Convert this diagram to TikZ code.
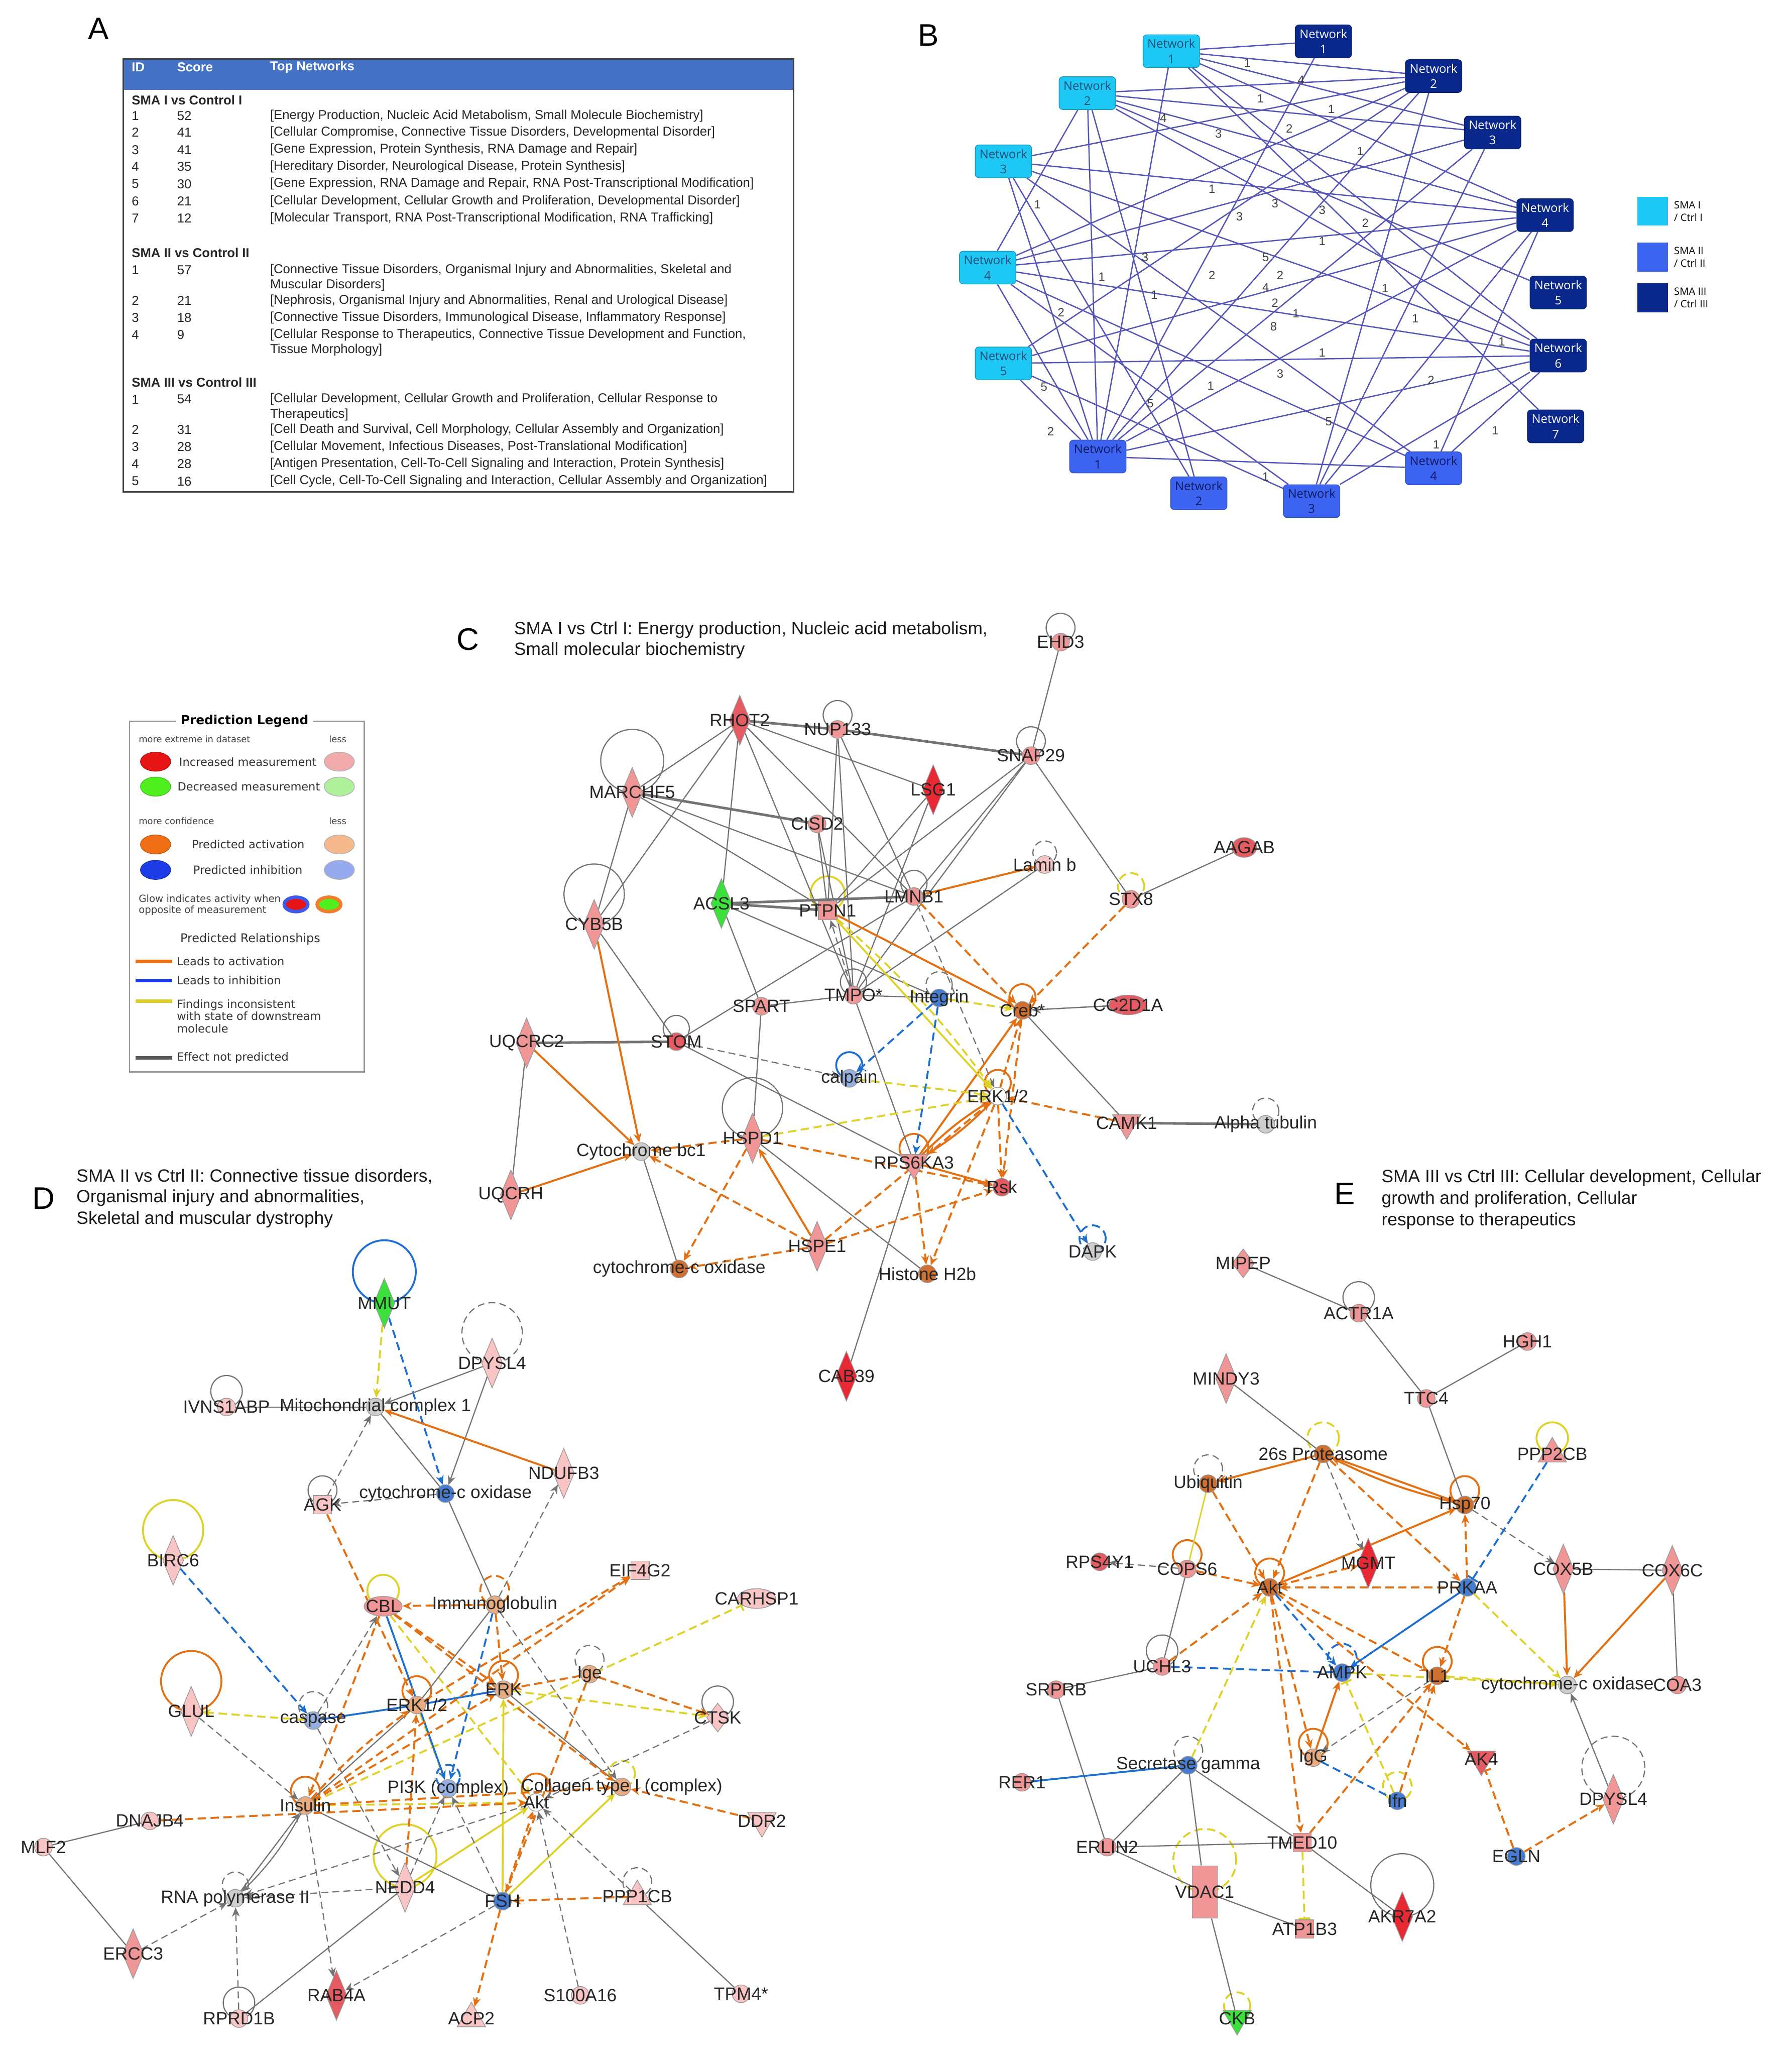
\documentclass[tikz,border=0pt]{standalone}
\usepackage{fontspec}
\setmainfont{Liberation Sans}
\newfontfamily\legf{DejaVu Sans}
\newfontfamily\netf{Open Sans}
\usetikzlibrary{shapes.geometric,arrows.meta,calc}
\pgfdeclarelayer{bg}
\pgfdeclarelayer{back}
\pgfsetlayers{back,bg,main}
\definecolor{pinkL}{RGB}{248,196,196}
\definecolor{pinkM}{RGB}{240,150,150}
\definecolor{redM}{RGB}{228,92,98}
\definecolor{redS}{RGB}{232,40,50}
\definecolor{greenS}{RGB}{60,225,60}
\definecolor{orgS}{RGB}{208,112,48}
\definecolor{orgL}{RGB}{232,172,128}
\definecolor{bluS}{RGB}{70,125,210}
\definecolor{bluL}{RGB}{150,175,225}
\definecolor{grayN}{RGB}{205,205,205}
\definecolor{eOr}{RGB}{228,112,20}
\definecolor{eBl}{RGB}{30,110,210}
\definecolor{eYe}{RGB}{222,210,40}
\definecolor{eGr}{RGB}{115,115,115}
\definecolor{hdr}{RGB}{68,114,196}
\definecolor{cyanN}{RGB}{30,200,245}
\definecolor{cyanT}{RGB}{25,80,120}
\definecolor{bluN}{RGB}{60,100,240}
\definecolor{navT}{RGB}{15,25,100}
\definecolor{navN}{RGB}{10,40,140}
\definecolor{netE}{RGB}{85,85,185}
\definecolor{lgRed}{RGB}{230,20,20}
\definecolor{lgPink}{RGB}{240,170,170}
\definecolor{lgGreen}{RGB}{80,240,30}
\definecolor{lgLGreen}{RGB}{175,240,155}
\definecolor{lgOrg}{RGB}{240,110,20}
\definecolor{lgLOrg}{RGB}{245,185,140}
\definecolor{lgBlue}{RGB}{30,60,230}
\definecolor{lgLBlue}{RGB}{150,170,240}
\newcommand\fsz[1]{\fontsize{#1}{#1}\selectfont}
\newcommand\Gn[5]{\node[#1,fill=#2] (#3) at (#4) {}; \node[lbl] (#3t) at (#3.center) {#5};}
\newcommand\Lp[3]{\draw[#1] ($(#2)+(0,-#3)$) circle[radius=#3*0.02cm];}
\newcommand\Tr[5]{\node[tx] (#5a) at (100.1,#1) {#2}; \node[tx] (#5b) at (134.7,#1) {#3}; \node[tx] (#5c) at (205.6,#1) {#4};}
\tikzset{
 nb/.style={draw=black!40, line width=0.3pt, inner sep=0pt},
 gc/.style={nb, circle, minimum size=0.27cm},
 gd/.style={nb, diamond, minimum width=0.32cm, minimum height=0.76cm},
 gsd/.style={nb, diamond, minimum width=0.34cm, minimum height=0.44cm},
 gtd/.style={nb, regular polygon, regular polygon sides=3, shape border rotate=180, minimum size=0.5cm},
 gtu/.style={nb, regular polygon, regular polygon sides=3, minimum size=0.5cm},
 gr/.style={nb, rectangle, minimum width=0.28cm, minimum height=0.28cm},
 grt/.style={nb, rectangle, minimum width=0.38cm, minimum height=0.8cm},
 gew/.style={nb, ellipse, minimum width=0.58cm, minimum height=0.3cm},
 ges/.style={nb, ellipse, minimum width=0.38cm, minimum height=0.3cm},
 lbl/.style={inner sep=0pt, font=\fsz{7.7}, text=black!85},
 arr/.style={-{Stealth[length=4pt,width=3.4pt]}},
 eg/.style={draw=eGr, line width=0.5pt},
 egt/.style={draw=eGr, line width=1.1pt},
 ega/.style={eg, arr},
 egd/.style={eg, dash pattern=on 3pt off 1.8pt, arr},
 eoa/.style={draw=eOr, line width=0.85pt, arr},
 eod/.style={eoa, dash pattern=on 3.6pt off 2pt},
 eya/.style={draw=eYe, line width=0.8pt, arr},
 eyd/.style={eya, dash pattern=on 3.6pt off 2pt},
 eys/.style={draw=eYe, line width=0.6pt},
 eybar/.style={draw=eYe, line width=0.8pt, dash pattern=on 3.6pt off 2pt, -{Bar[width=5pt]}},
 eba/.style={draw=eBl, line width=0.8pt, arr},
 ebs/.style={draw=eBl, line width=0.8pt},
 ebd/.style={eba, dash pattern=on 3.6pt off 2pt},
 ebd0/.style={ebs, dash pattern=on 3.6pt off 2pt},
 ebbar/.style={ebs, dash pattern=on 3.6pt off 2pt, -{Bar[width=5pt]}},
 eodbar/.style={draw=eOr, line width=0.85pt, dash pattern=on 3.6pt off 2pt, -{Bar[width=5pt]}},
 lg/.style={draw=eGr, line width=0.5pt},
 lgd/.style={lg, dash pattern=on 3pt off 1.8pt},
 lo/.style={draw=eOr, line width=0.8pt},
 lod/.style={lo, dash pattern=on 3.6pt off 2pt},
 ly/.style={draw=eYe, line width=0.8pt},
 lyd/.style={ly, dash pattern=on 3.6pt off 2pt},
 lb/.style={draw=eBl, line width=0.8pt},
 lbd/.style={lb, dash pattern=on 3.6pt off 2pt},
 tx/.style={anchor=west, inner sep=0pt, font=\fsz{5.6}, text=black!85},
 th/.style={tx, font=\bfseries\fsz{5.6}, text=white},
 tg/.style={tx, font=\bfseries\fsz{5.6}},
 ttl/.style={anchor=west, inner sep=0pt, font=\fsz{7.7}, text=black!90},
 letter/.style={inner sep=0pt, font=\fsz{13.5}},
 netbox/.style={rounded corners=1.6pt, minimum width=0.86cm, minimum height=0.5cm, inner sep=0pt, align=center, font=\netf\fontsize{5.2}{6.6}\selectfont},
 nI/.style={netbox, fill=cyanN, draw=cyanN!75!black, line width=0.3pt, text=cyanT},
 nII/.style={netbox, fill=bluN, draw=bluN!80!black, line width=0.3pt, text=navT},
 nIII/.style={netbox, fill=navN, draw=navN!80!black, line width=0.3pt, text=white},
 bl/.style={font=\fsz{5.2}, text=black!75, inner sep=0.3pt},
 ne/.style={draw=netE, line width=0.55pt},
 lt/.style={anchor=west, inner sep=0pt, font=\legf\fsz{4.9}, text=black!80},
 ls/.style={anchor=west, inner sep=0pt, font=\legf\fsz{3.9}, text=black!75},
 lell/.style={ellipse, minimum width=0.46cm, minimum height=0.29cm, inner sep=0pt},
}
\begin{document}
\begin{tikzpicture}[x=0.02cm,y=-0.02cm]
\useasboundingbox (0,0) rectangle (1366,1568);
\begin{pgfonlayer}{back}
\fill[white] (0,0) rectangle (1366,1568);
\end{pgfonlayer}

% ================= Panel letters and titles
\node[letter] (LA) at (75,22) {A};
\node[letter] (LB) at (708,27) {B};
\node[letter] (LC) at (356.8,487.4) {C};
\node[letter] (LD) at (33.1,913.3) {D};
\node[letter] (LE) at (1025.2,910) {E};
\node[ttl] (tc1) at (391.7,480) {SMA I vs Ctrl I: Energy production, Nucleic acid metabolism,};
\node[ttl] (tc2) at (391.7,495.8) {Small molecular biochemistry};
\node[ttl] (td1) at (58,897) {SMA II vs Ctrl II: Connective tissue disorders,};
\node[ttl] (td2) at (58,913.3) {Organismal injury and abnormalities,};
\node[ttl] (td3) at (58,929.5) {Skeletal and muscular dystrophy};
\node[ttl] (te1) at (1053,898) {SMA III vs Ctrl III: Cellular development, Cellular};
\node[ttl] (te2) at (1053,914.3) {growth and proliferation, Cellular};
\node[ttl] (te3) at (1053,930.6) {response to therapeutics};

% ================= Panel A table
\fill[hdr] (94,45) rectangle (605,68.6);
\draw[black!75, line width=0.7pt] (94,45) rectangle (605,375);
\node[th] (hID) at (100.1,51.1) {ID};
\node[th] (hSc) at (134.7,51.1) {Score};
\node[th] (hTN) at (205.6,51.1) {Top Networks};
\node[tg] (g1) at (100.1,76.3) {SMA I vs Control I};
\Tr{88.3}{1}{52}{[Energy Production, Nucleic Acid Metabolism, Small Molecule Biochemistry]}{r11}
\Tr{101}{2}{41}{[Cellular Compromise, Connective Tissue Disorders, Developmental Disorder]}{r12}
\Tr{114.2}{3}{41}{[Gene Expression, Protein Synthesis, RNA Damage and Repair]}{r13}
\Tr{127.1}{4}{35}{[Hereditary Disorder, Neurological Disease, Protein Synthesis]}{r14}
\Tr{140.2}{5}{30}{[Gene Expression, RNA Damage and Repair, RNA Post-Transcriptional Modification]}{r15}
\Tr{153.4}{6}{21}{[Cellular Development, Cellular Growth and Proliferation, Developmental Disorder]}{r16}
\Tr{166.5}{7}{12}{[Molecular Transport, RNA Post-Transcriptional Modification, RNA Trafficking]}{r17}
\node[tg] (g2) at (100.1,192.8) {SMA II vs Control II};
\Tr{205.9}{1}{57}{[Connective Tissue Disorders, Organismal Injury and Abnormalities, Skeletal and}{r21}
\node[tx] (r21d) at (205.6,217.5) {Muscular Disorders]};
\Tr{229.1}{2}{21}{[Nephrosis, Organismal Injury and Abnormalities, Renal and Urological Disease]}{r22}
\Tr{242.2}{3}{18}{[Connective Tissue Disorders, Immunological Disease, Inflammatory Response]}{r23}
\Tr{255.1}{4}{9}{[Cellular Response to Therapeutics, Connective Tissue Development and Function,}{r24}
\node[tx] (r24d) at (205.6,266.7) {Tissue Morphology]};
\node[tg] (g3) at (100.1,291.3) {SMA III vs Control III};
\Tr{304.4}{1}{54}{[Cellular Development, Cellular Growth and Proliferation, Cellular Response to}{r31}
\node[tx] (r31d) at (205.6,316) {Therapeutics]};
\Tr{327.6}{2}{31}{[Cell Death and Survival, Cell Morphology, Cellular Assembly and Organization]}{r32}
\Tr{340.7}{3}{28}{[Cellular Movement, Infectious Diseases, Post-Translational Modification]}{r33}
\Tr{353.7}{4}{28}{[Antigen Presentation, Cell-To-Cell Signaling and Interaction, Protein Synthesis]}{r34}
\Tr{366.8}{5}{16}{[Cell Cycle, Cell-To-Cell Signaling and Interaction, Cellular Assembly and Organization]}{r35}

% ================= Panel B network
\node[nI] (bI1) at (893,39) {Network\\1};
\node[nI] (bI2) at (829,71) {Network\\2};
\node[nI] (bI3) at (765,123) {Network\\3};
\node[nI] (bI4) at (753,204) {Network\\4};
\node[nI] (bI5) at (765,277) {Network\\5};
\node[nIII] (bT1) at (1009,31.5) {Network\\1};
\node[nIII] (bT2) at (1093,58) {Network\\2};
\node[nIII] (bT3) at (1138,101) {Network\\3};
\node[nIII] (bT4) at (1178,164) {Network\\4};
\node[nIII] (bT5) at (1188,223) {Network\\5};
\node[nIII] (bT6) at (1188,271) {Network\\6};
\node[nIII] (bT7) at (1186,325) {Network\\7};
\node[nII] (bS1) at (837,348) {Network\\1};
\node[nII] (bS2) at (914,376) {Network\\2};
\node[nII] (bS3) at (1000,382) {Network\\3};
\node[nII] (bS4) at (1093,357) {Network\\4};
\begin{pgfonlayer}{bg}
\foreach \a/\b in {bI1/bT1,bI1/bT2,bI1/bT3,bI1/bT4,bI1/bS1,bI1/bT7,bI1/bT6,
 bT1/bS1,bI2/bT2,bI2/bT3,bI2/bT4,bI2/bT5,bI2/bT6,bI2/bS1,bI2/bS2,bI2/bI4,
 bT2/bI4,bT2/bS1,bT2/bI5,bT2/bS3,bT2/bI3,bT3/bI4,bT3/bS1,bT3/bS3,
 bI3/bT4,bI3/bT6,bI3/bS2,bI3/bS4,bI3/bS1,bI4/bT4,bI4/bT6,bI4/bS3,bI4/bS1,bI4/bS4,
 bI5/bT6,bI5/bT4,bI5/bS1,bI5/bS3,bS1/bS4,bS1/bT6,bS1/bT4,bT4/bS4,bT4/bS3,bT6/bS4,bT6/bS3}
 \draw[ne] (\a) -- (\b);
\end{pgfonlayer}
\foreach \x/\y/\t [count=\i] in {951/48/1,992/61/4,961/75/1,1015/83/1,887/90/4,929/102/3,983/98/2,1037/115.5/1,
 791/156/1,924/144/1,972/155/3,945/165/3,1008/160/3,1041/170/2,1008/184/1,873/196/3,965/196/5,840/211/1,
 924/210/2,976/210/2,965/219/4,880/225/1,1056/220/1,809/238/2,972/231/2,988/239/1,1079/243/1,971/249/8,
 1145/260.5/1,1008/269/1,976/285/3,923/294/1,1091/290/2,796/295/5,877/307.5/5,1013/321.5/5,801/329/2,
 1140/328/1,1095/339/1,965/363.5/1}
 \node[bl] (bl\i) at (\x,\y) {\t};
\node[rectangle, fill=cyanN, minimum width=0.46cm, minimum height=0.44cm] (kI) at (1260,161) {};
\node[rectangle, fill=bluN, minimum width=0.46cm, minimum height=0.44cm] (kII) at (1260,196) {};
\node[rectangle, fill=navN, minimum width=0.46cm, minimum height=0.44cm] (kIII) at (1260,227) {};
\node[anchor=west, inner sep=0pt, font=\netf\fsz{4.4}, align=left] (kIt) at (1276,161) {SMA I\\[1pt]/ Ctrl I};
\node[anchor=west, inner sep=0pt, font=\netf\fsz{4.4}, align=left] (kIIt) at (1276,196) {SMA II\\[1pt]/ Ctrl II};
\node[anchor=west, inner sep=0pt, font=\netf\fsz{4.4}, align=left] (kIIIt) at (1276,227) {SMA III\\[1pt]/ Ctrl III};

% ================= Prediction legend
\draw[black!40, line width=0.6pt] (98.8,549.8) rectangle (277.7,817.2);
\node[fill=white, inner xsep=2pt, inner ysep=0pt, font=\legf\bfseries\fsz{5.4}] (pl) at (186.5,549.5) {Prediction Legend};
\node[ls] (pl1) at (105.4,563.4) {more extreme in dataset};
\node[ls] (pl2) at (250.5,563.4) {less};
\node[lell, fill=lgRed, draw=lgRed!80!black, line width=0.3pt] (pe1) at (118.6,580.6) {};
\node[lt] (pt1) at (136.3,580.6) {Increased measurement};
\node[lell, fill=lgPink, draw=black!30, line width=0.3pt] (pe2) at (258.7,580.6) {};
\node[lell, fill=lgGreen, draw=lgGreen!80!black, line width=0.3pt] (pe3) at (118.6,599.6) {};
\node[lt] (pt2) at (135,599.6) {Decreased measurement};
\node[lell, fill=lgLGreen, draw=black!30, line width=0.3pt] (pe4) at (258.7,599.6) {};
\node[ls] (pl3) at (105.4,625.9) {more confidence};
\node[ls] (pl4) at (250.5,625.9) {less};
\node[lell, fill=lgOrg, draw=lgOrg!80!black, line width=0.3pt] (pe5) at (118.6,643.7) {};
\node[lt] (pt3) at (146,643.7) {Predicted activation};
\node[lell, fill=lgLOrg, draw=black!30, line width=0.3pt] (pe6) at (258.7,643.7) {};
\node[lell, fill=lgBlue, draw=lgBlue!80!black, line width=0.3pt] (pe7) at (118.6,663.1) {};
\node[lt] (pt4) at (147,663.1) {Predicted inhibition};
\node[lell, fill=lgLBlue, draw=black!30, line width=0.3pt] (pe8) at (258.7,663.1) {};
\node[ls, font=\legf\fsz{4.3}, align=left] (pl5) at (105.4,689.8) {Glow indicates activity when\\[0.6pt]opposite of measurement};
\node[ellipse, fill=lgRed, draw=lgBlue!85, line width=1.5pt, minimum width=0.36cm, minimum height=0.22cm, inner sep=0pt] (pg1) at (225.7,689.4) {};
\node[ellipse, fill=lgGreen, draw=lgOrg!90, line width=1.5pt, minimum width=0.36cm, minimum height=0.22cm, inner sep=0pt] (pg2) at (250.8,689.4) {};
\node[inner sep=0pt, font=\legf\fsz{5.2}, text=black!80] (pr) at (190.8,715.7) {Predicted Relationships};
\coordinate (la1) at (103.3,732.9); \coordinate (lb1) at (131.4,732.9);
\coordinate (la2) at (103.3,747.4); \coordinate (lb2) at (131.4,747.4);
\coordinate (la3) at (103.3,763.2); \coordinate (lb3) at (131.4,763.2);
\coordinate (la4) at (103.3,806.3); \coordinate (lb4) at (131.4,806.3);
\draw[draw=lgOrg, line width=1.5pt] (la1) -- (lb1);
\draw[draw=lgBlue, line width=1.5pt] (la2) -- (lb2);
\draw[draw=eYe, line width=1.5pt] (la3) -- (lb3);
\draw[draw=black!65, line width=1.5pt] (la4) -- (lb4);
\node[lt] (prt1) at (134.5,732.9) {Leads to activation};
\node[lt] (prt2) at (134.5,747.4) {Leads to inhibition};
\node[lt, align=left] (prt3) at (134.5,774.6) {Findings inconsistent\\[0.5pt]with state of downstream\\[0.5pt]molecule};
\node[lt] (prt4) at (134.5,806.3) {Effect not predicted};

% ================= Panel C
\Gn{gc}{pinkM}{cEHD3}{808.6,489.5}{EHD3}
\Gn{gd}{redM}{cRHOT2}{564,549}{RHOT2}
\Gn{gc}{pinkM}{cNUP}{638.6,556}{NUP133}
\Gn{gc}{pinkM}{cSNAP}{786,576}{SNAP29}
\Gn{gd}{pinkM}{cMARCH}{482,604}{MARCHF5}
\Gn{gd}{redS}{cLSG1}{711.5,602}{LSG1}
\Gn{gc}{pinkM}{cCISD2}{623,628}{CISD2}
\Gn{gc}{pinkL}{cLamb}{796.5,659}{Lamin b}
\Gn{ges}{redM}{cAAGAB}{948.6,646}{AAGAB}
\Gn{gd}{pinkM}{cCYB5B}{453,704.6}{CYB5B}
\Gn{gd}{greenS}{cACSL3}{550,688.7}{ACSL3}
\Gn{gr}{pinkM}{cPTPN1}{631,694}{PTPN1}
\Gn{gc}{pinkM}{cLMNB1}{696.8,683.4}{LMNB1}
\Gn{gc}{pinkM}{cSTX8}{862.3,685.5}{STX8}
\Gn{gc}{pinkM}{cTMPO}{650.7,758.6}{TMPO*}
\Gn{gc}{bluS}{cInteg}{716,760.7}{Integrin}
\Gn{gc}{orgS}{cCreb}{779.5,770.2}{Creb*}
\Gn{gew}{redM}{cCC2D1A}{860,766}{CC2D1A}
\Gn{gc}{pinkM}{cSPART}{580.5,767}{SPART}
\Gn{gd}{pinkM}{cUQCRC2}{401.5,795}{UQCRC2}
\Gn{gc}{redM}{cSTOM}{515.6,794}{STOM}
\Gn{gc}{bluL}{cCalp}{647.5,822}{calpain}
\Gn{gc}{white}{cERK}{760.7,835.5}{ERK1/2}
\Gn{gtd}{pinkM}{cCAMK1}{859,856}{CAMK1}
\Gn{gc}{grayN}{cAlpha}{965,857}{Alpha tubulin}
\Gn{gd}{pinkM}{cHSPD1}{573.7,867.5}{HSPD1}
\Gn{gc}{grayN}{cBC1}{488.8,877.8}{Cytochrome bc1}
\Gn{gtd}{pinkM}{cRPS}{696.8,886.3}{RPS6KA3}
\Gn{gc}{redM}{cRsk}{763.8,905}{Rsk}
\Gn{gd}{pinkM}{cUQCRH}{389.5,910.8}{UQCRH}
\Gn{gd}{pinkM}{cHSPE1}{623,950}{HSPE1}
\Gn{gc}{grayN}{cDAPK}{833,954}{DAPK}
\Gn{gc}{orgS}{cCYTC}{517.8,967.3}{cytochrome-c oxidase}
\Gn{gc}{orgS}{cH2b}{707,971}{Histone H2b}
\Gn{gd}{redS}{cCAB39}{645.3,1049}{CAB39}
\begin{pgfonlayer}{bg}
\Lp{lg}{cEHD3}{11} \Lp{lg}{cNUP}{11} \Lp{lg}{cSNAP}{11} \Lp{lg}{cMARCH}{24}
\Lp{lg}{cCYB5B}{23} \Lp{lg}{cLMNB1}{10} \Lp{lg}{cTMPO}{10} \Lp{lg}{cSTOM}{10} \Lp{lg}{cHSPD1}{23}
\Lp{lgd}{cLamb}{9} \Lp{lgd}{cInteg}{10} \Lp{lgd}{cAlpha}{10}
\Lp{ly}{cPTPN1}{13} \Lp{lyd}{cSTX8}{10}
\Lp{lo}{cCreb}{10} \Lp{lo}{cERK}{10} \Lp{lo}{cRPS}{11}
\Lp{lb}{cCalp}{10} \Lp{lbd}{cDAPK}{10}
\foreach \a/\b in {cEHD3/cSNAP,cRHOT2/cLSG1,cRHOT2/cMARCH,cRHOT2/cCYB5B,cRHOT2/cACSL3,cRHOT2/cTMPO,
 cRHOT2/cLMNB1,cNUP/cPTPN1,cNUP/cLMNB1,cNUP/cTMPO,cSNAP/cLMNB1,cSNAP/cTMPO,cSNAP/cSTX8,cSNAP/cPTPN1,
 cLSG1/cPTPN1,cLSG1/cTMPO,cMARCH/cLMNB1,cMARCH/cPTPN1,cMARCH/cCYB5B,cCISD2/cPTPN1,cCISD2/cTMPO,
 cACSL3/cSPART,cACSL3/cInteg,cCYB5B/cSTOM,cLMNB1/cSTOM,cLamb/cTMPO,cSTX8/cAAGAB,cTMPO/cInteg,
 cSPART/cTMPO,cTMPO/cRPS,cSPART/cHSPD1,cCreb/cCC2D1A,cCreb/cCAMK1,cUQCRC2/cUQCRH,cSTOM/cRPS,
 cHSPD1/cH2b,cBC1/cCYTC,cRPS/cCAB39}
 \draw[eg] (\a) -- (\b);
\foreach \a/\b in {cRHOT2/cNUP,cNUP/cSNAP,cMARCH/cCISD2,cACSL3/cPTPN1,cACSL3/cLMNB1,cUQCRC2/cSTOM,cCAMK1/cAlpha}
 \draw[egt] (\a) -- (\b);
\foreach \a/\b in {cLMNB1/cERK,cTMPO/cPTPN1,cSTOM/cCalp,cCC2D1A/cCreb}
 \draw[egd] (\a) -- (\b);
\foreach \a/\b in {cLMNB1/cLamb,cPTPN1/cCreb,cCYB5B/cBC1,cUQCRC2/cBC1,cUQCRH/cBC1,cHSPE1/cHSPD1,cRPS/cCreb,cRPS/cRsk}
 \draw[eoa] (\a) -- (\b);
\draw[eoa] (cRPS) to[bend left=6] (cERK);
\draw[eoa] (cERK) to[bend left=6] (cRPS);
\foreach \a/\b in {cLMNB1/cCreb,cSTX8/cCreb,cERK/cRsk,cERK/cH2b,cERK/cCreb,cCreb/cRsk,cCAMK1/cERK,
 cHSPD1/cBC1,cHSPD1/cRsk,cHSPD1/cCYTC,cHSPE1/cBC1,cHSPE1/cCYTC,cHSPE1/cRsk,cHSPE1/cERK,cRPS/cH2b}
 \draw[eod] (\a) -- (\b);
\draw[eya] (cPTPN1) -- (cERK);
\draw[eyd] (cPTPN1) to[bend left=6] (cERK);
\foreach \a/\b in {cInteg/cCreb,cCalp/cERK,cHSPD1/cERK}
 \draw[eyd] (\a) -- (\b);
\foreach \a/\b in {cInteg/cCalp,cInteg/cRPS,cERK/cDAPK}
 \draw[ebd] (\a) -- (\b);
\end{pgfonlayer}

% ================= Panel D
\Gn{gd}{greenS}{dMMUT}{293,993.4}{MMUT}
\Gn{gd}{pinkL}{dDPY}{375.2,1039}{DPYSL4}
\Gn{gc}{pinkL}{dIVNS}{172.7,1072.5}{IVNS1ABP}
\Gn{gc}{grayN}{dMito}{286.2,1072.5}{Mitochondrial complex 1}
\Gn{gd}{pinkL}{dNDU}{429.8,1123}{NDUFB3}
\Gn{gr}{pinkL}{dAGK}{245.9,1147}{AGK}
\Gn{gc}{bluS}{dCYTC}{339.6,1138.5}{cytochrome-c oxidase}
\Gn{gd}{pinkL}{dBIRC6}{132,1189.4}{BIRC6}
\Gn{gr}{pinkL}{dEIF}{487.9,1197}{EIF4G2}
\Gn{gew}{pinkL}{dCARH}{576.9,1218.5}{CARHSP1}
\Gn{gew}{pinkM}{dCBL}{292.1,1224.4}{CBL}
\Gn{gc}{orgL}{dImm}{377.2,1223.2}{Immunoglobulin}
\Gn{gc}{orgL}{dIge}{449.5,1276.2}{Ige}
\Gn{gd}{pinkL}{dGLUL}{145.8,1304.5}{GLUL}
\Gn{gc}{bluL}{dCasp}{238.8,1311.5}{caspase}
\Gn{gc}{orgL}{dERK12}{317.8,1299.7}{ERK1/2}
\Gn{gc}{orgL}{dERK}{383.9,1288}{ERK}
\Gn{gsd}{pinkL}{dCTSK}{547.2,1309.2}{CTSK}
\Gn{gc}{bluL}{dPI3K}{341.6,1363.3}{PI3K (complex)}
\Gn{gc}{orgL}{dColl}{474.1,1362.1}{Collagen type I (complex)}
\Gn{gc}{white}{dAkt}{408.8,1373.9}{Akt}
\Gn{gc}{orgL}{dIns}{232.8,1376.3}{Insulin}
\Gn{gc}{pinkL}{dDNAJ}{114.2,1388}{DNAJB4}
\Gn{gtd}{pinkL}{dDDR2}{580.9,1388}{DDR2}
\Gn{gc}{pinkL}{dMLF2}{33.1,1408}{MLF2}
\Gn{gd}{pinkL}{dNEDD4}{308.8,1438.6}{NEDD4}
\Gn{gc}{grayN}{dRNA}{179.4,1447}{RNA polymerase II}
\Gn{gc}{bluS}{dFSH}{383.1,1449.2}{FSH}
\Gn{gtu}{pinkL}{dPPP}{485.9,1445.7}{PPP1CB}
\Gn{gd}{pinkM}{dERCC3}{101.5,1489.2}{ERCC3}
\Gn{gd}{redM}{dRAB}{256.5,1521}{RAB4A}
\Gn{gc}{pinkL}{dS100}{442.4,1521}{S100A16}
\Gn{gc}{pinkL}{dTPM}{565,1519.8}{TPM4*}
\Gn{gc}{pinkL}{dRPRD}{182.2,1538.7}{RPRD1B}
\Gn{gtu}{pinkL}{dACP2}{359.4,1538.7}{ACP2}
\begin{pgfonlayer}{bg}
\Lp{lb}{dMMUT}{24} \Lp{lgd}{dDPY}{23} \Lp{lg}{dIVNS}{12} \Lp{lg}{dAGK}{11} \Lp{ly}{dBIRC6}{23}
\Lp{ly}{dCBL}{12} \Lp{lod}{dImm}{11} \Lp{lgd}{dIge}{11} \Lp{lo}{dGLUL}{23} \Lp{lgd}{dCasp}{11}
\Lp{lo}{dERK12}{11} \Lp{lo}{dERK}{11} \Lp{lg}{dCTSK}{12} \Lp{lbd}{dPI3K}{9} \Lp{lyd}{dColl}{10}
\Lp{lo}{dAkt}{11} \Lp{lo}{dIns}{11} \Lp{ly}{dNEDD4}{24} \Lp{lgd}{dRNA}{10} \Lp{lgd}{dPPP}{11} \Lp{lg}{dRPRD}{12}
\foreach \a/\b in {dMMUT/dMito,dCasp/dGLUL,dERK/dCTSK,dCBL/dAkt,dIns/dAkt,dERK12/dPI3K}
 \draw[eyd] (\a) -- (\b);
\draw[eybar] (dIns) -- (dCARH);
\foreach \a/\b in {dNEDD4/dAkt,dFSH/dColl,dFSH/dERK}
 \draw[eya] (\a) -- (\b);
\foreach \a/\b in {dMMUT/dCYTC,dBIRC6/dCasp,dImm/dPI3K}
 \draw[ebd] (\a) -- (\b);
\draw[eba] (dCBL) -- (dPI3K);
\draw[ebs] (dCasp) -- (dERK12);
\draw[ebs] (dERK12) -- (dERK);
\foreach \a/\b in {dDPY/dMito,dDPY/dCYTC,dRNA/dIns}
 \draw[ega] (\a) -- (\b);
\draw[ega] (dIns) to[bend left=8] (dRNA);
\foreach \a/\b in {dIVNS/dMito,dMito/dCYTC,dCYTC/dImm,dIns/dFSH,dMLF2/dDNAJ,dMLF2/dERCC3,dRPRD/dNEDD4,
 dERK/dColl,dImm/dERK12,dIns/dERK12,dPPP/dTPM}
 \draw[eg] (\a) -- (\b);
\draw[eoa] (dNDU) -- (dMito);
\foreach \a/\b in {dAGK/dMito,dCYTC/dAGK,dImm/dNDU,dCasp/dCBL,dGLUL/dIns,dCasp/dNEDD4,dAkt/dRNA,dNEDD4/dRNA,
 dERCC3/dRNA,dRPRD/dRNA,dIns/dRAB,dFSH/dRAB,dFSH/dPI3K,dPPP/dAkt,dS100/dAkt,dCTSK/dAkt,dImm/dColl,dNEDD4/dPI3K}
 \draw[egd] (\a) -- (\b);
\foreach \a/\b in {dAGK/dERK12,dImm/dCBL,dImm/dERK,dIns/dEIF,dERK12/dEIF,dCBL/dERK,dCBL/dIns,dIge/dERK,
 dIge/dCTSK,dIns/dERK,dDNAJ/dAkt,dDDR2/dColl,dFSH/dAkt,dFSH/dACP2,dPPP/dFSH,dIge/dFSH,dNEDD4/dERK12,
 dIns/dColl,dCBL/dColl}
 \draw[eod] (\a) -- (\b);
\draw[eod] (dIns) to[bend left=6] (dERK12);
\end{pgfonlayer}

% ================= Panel E
\Gn{gsd}{pinkM}{eMIPEP}{947.8,963}{MIPEP}
\Gn{gc}{pinkM}{eACTR}{1035.9,1001}{ACTR1A}
\Gn{gc}{pinkM}{eHGH1}{1164.5,1022.6}{HGH1}
\Gn{gd}{pinkM}{eMINDY}{934.8,1050.8}{MINDY3}
\Gn{gc}{pinkM}{eTTC4}{1087.4,1066}{TTC4}
\Gn{gc}{orgS}{eProt}{1008.8,1108.2}{26s Proteasome}
\Gn{gtu}{pinkM}{ePPP}{1183.5,1108.2}{PPP2CB}
\Gn{gc}{orgS}{eUbq}{921.1,1131}{Ubiquitin}
\Gn{gc}{orgS}{eHsp}{1116.8,1147.2}{Hsp70}
\Gn{gc}{redM}{eRPS}{838.4,1190.5}{RPS4Y1}
\Gn{gc}{pinkM}{eCOPS}{905.1,1196}{COPS6}
\Gn{gd}{redS}{eMGMT}{1043.2,1191.6}{MGMT}
\Gn{gd}{pinkM}{eCOX5B}{1191.9,1196}{COX5B}
\Gn{gd}{pinkM}{eCOX6C}{1275,1197}{COX6C}
\Gn{gc}{orgS}{eAkt}{968,1210}{Akt}
\Gn{gc}{bluS}{ePRK}{1118.7,1210}{PRKAA}
\Gn{gc}{pinkM}{eUCH}{886,1270.3}{UCHL3}
\Gn{gc}{pinkM}{eSRP}{805.2,1288}{SRPRB}
\Gn{gc}{bluS}{eAMPK}{1023.3,1275}{AMPK}
\Gn{gc}{orgS}{eIL1}{1095.8,1277.4}{IL1}
\Gn{gc}{grayN}{eCYTC}{1195,1284.4}{cytochrome-c oxidase}
\Gn{gc}{pinkM}{eCOA3}{1278.9,1284.4}{COA3}
\Gn{gc}{orgL}{eIgG}{1001.2,1339.8}{IgG}
\Gn{gc}{bluS}{eSec}{905.9,1345.6}{Secretase gamma}
\Gn{gc}{pinkM}{eRER1}{779.2,1358.6}{RER1}
\Gn{gtd}{redM}{eAK4}{1129.4,1341}{AK4}
\Gn{gc}{bluS}{eIfn}{1065.3,1372.7}{Ifn}
\Gn{gd}{pinkM}{eDPY}{1230,1371.5}{DPYSL4}
\Gn{gc}{pinkM}{eERL}{844.1,1408}{ERLIN2}
\Gn{gr}{pinkM}{eTMED}{992.8,1404.5}{TMED10}
\Gn{gc}{bluS}{eEGLN}{1156.1,1415.1}{EGLN}
\Gn{grt}{pinkM}{eVDAC}{918.5,1442.2}{VDAC1}
\Gn{gr}{pinkM}{eATP}{994.7,1470.4}{ATP1B3}
\Gn{gd}{redS}{eAKR}{1069.1,1461}{AKR7A2}
\Gn{gtd}{greenS}{eCKB}{943.2,1538.7}{CKB}
\begin{pgfonlayer}{bg}
\Lp{lg}{eACTR}{12} \Lp{lyd}{eProt}{12} \Lp{ly}{ePPP}{12} \Lp{lgd}{eUbq}{11} \Lp{lo}{eHsp}{11}
\Lp{lo}{eCOPS}{11} \Lp{lo}{eAkt}{11} \Lp{lg}{eUCH}{12} \Lp{lbd}{eAMPK}{11} \Lp{lo}{eIL1}{11}
\Lp{lo}{eIgG}{11} \Lp{lgd}{eSec}{11} \Lp{lyd}{eIfn}{11} \Lp{lgd}{eDPY}{24} \Lp{lyd}{eVDAC}{24}
\Lp{lg}{eAKR}{24} \Lp{lyd}{eCKB}{10}
\foreach \a/\b in {eMIPEP/eACTR,eACTR/eTTC4,eHGH1/eTTC4,eTTC4/eHsp,eMINDY/eProt,eCOX5B/eCOX6C,eCOX6C/eCOA3,
 eUCH/eSRP,eUCH/eCOPS,eSRP/eERL,eSec/eERL,eSec/eTMED,eSec/eVDAC,eERL/eTMED,eERL/eVDAC,eVDAC/eATP,
 eVDAC/eCKB,eTMED/eAKR}
 \draw[eg] (\a) -- (\b);
\draw[eys] (eUbq) -- (eCOPS);
\foreach \a/\b in {eProt/eUbq,eProt/eHsp,eAkt/eHsp,eCOX5B/eCYTC,eCOX6C/eCYTC,eIgG/eAMPK}
 \draw[eoa] (\a) -- (\b);
\draw[eoa] (eHsp) to[bend left=6] (eProt);
\foreach \a/\b in {eUbq/eAkt,eProt/eAkt,eProt/ePRK,eCOPS/eAkt,eUCH/eAkt,eAkt/eMGMT,ePRK/eAkt,ePRK/eHsp,
 eAkt/eIL1,eAkt/eIgG,eAkt/eTMED,eTMED/eIL1,eIfn/eIL1,eAkt/eAK4,eEGLN/eDPY,ePRK/eIL1}
 \draw[eod] (\a) -- (\b);
\draw[eodbar] (eEGLN) -- (eAK4);
\foreach \a/\b in {eProt/eMGMT,eHsp/eCOX5B,eCOPS/eRPS,eIL1/eIgG}
 \draw[egd] (\a) -- (\b);
\draw[ega] (eDPY) -- (eCYTC);
\draw[ebd] (eAkt) -- (eAMPK);
\draw[ebd0] (eUCH) -- (eAMPK);
\draw[ebd0] (eIgG) -- (eIfn);
\draw[ebbar] (ePPP) -- (ePRK);
\draw[eba] (ePRK) -- (eAMPK);
\draw[ebs] (eSec) -- (eRER1);
\foreach \a/\b in {eSec/eAkt,eAMPK/eCYTC,eIL1/eCYTC,ePRK/eCYTC}
 \draw[eyd] (\a) -- (\b);
\draw[eybar] (eTMED) -- (eATP);
\draw[eybar] (eIfn) -- (eAMPK);
\end{pgfonlayer}
\end{tikzpicture}
\end{document}
